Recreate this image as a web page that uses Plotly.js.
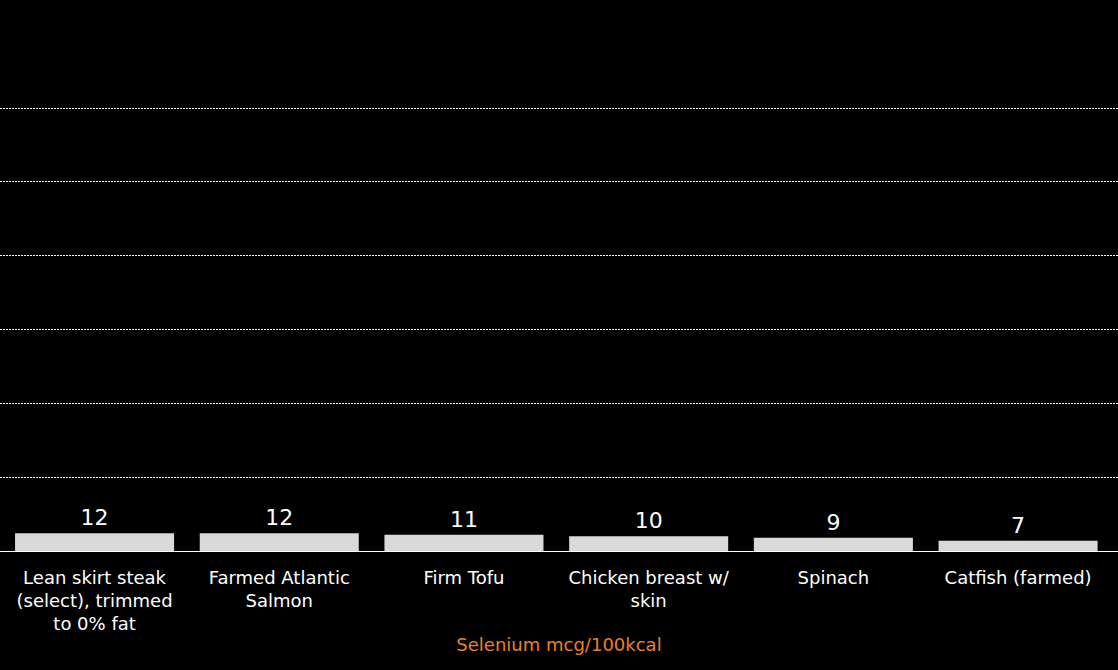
<!DOCTYPE html>
<html>
<head>
<meta charset="utf-8">
<script src="https://cdn.plot.ly/plotly-3.0.1.min.js"></script>
<style>html,body{margin:0;padding:0;background:#000;}#chart{width:1118px;height:670px;}</style>
</head>
<body>
<div id="chart"></div>
<script>
const categories = [
  "Lean skirt steak<br>(select), trimmed<br>to 0% fat",
  "Farmed Atlantic<br>Salmon",
  "Firm Tofu",
  "Chicken breast w/<br>skin",
  "Spinach",
  "Catfish (farmed)"
];
const seleniumValues = [12, 12, 11, 10, 9, 7];
const valueLabels = ["12", "12", "11", "10", "9", "7"];
const axisTitle = "Selenium mcg/100kcal";

const FONT = "'Century Gothic', 'DejaVu Sans', sans-serif";

const trace = {
  type: "bar",
  x: categories,
  y: seleniumValues,
  text: valueLabels,
  textposition: "outside",
  cliponaxis: false,
  textfont: {family: FONT, size: 22, color: "#ffffff"},
  marker: {color: "#d9d9d9", line: {width: 0}},
  hoverinfo: "skip"
};

const layout = {
  width: 1118,
  height: 670,
  paper_bgcolor: "#000000",
  plot_bgcolor: "#000000",
  margin: {l: 0, r: 0, t: 49, b: 119},
  bargap: 0.139,
  showlegend: false,
  font: {family: FONT, color: "#ffffff", size: 18},
  xaxis: {
    type: "category",
    range: [-0.512, 5.541],
    showgrid: false,
    showline: true,
    linecolor: "#ffffff",
    linewidth: 1,
    ticks: "",
    ticklabelstandoff: 10,
    tickfont: {family: FONT, size: 18, color: "#ffffff"},
    automargin: false,
    title: {text: axisTitle, font: {family: FONT, size: 18, color: "#e8802a"}, standoff: 4}
  },
  yaxis: {
    range: [0, 340],
    dtick: 50,
    tick0: 0,
    showgrid: true,
    gridcolor: "#ffffff",
    griddash: "2px,1px",
    gridwidth: 1,
    zeroline: false,
    showticklabels: false,
    ticks: "",
    automargin: false
  }
};

Plotly.newPlot("chart", [trace], layout, {displayModeBar: false, staticPlot: true});
</script>
</body>
</html>
